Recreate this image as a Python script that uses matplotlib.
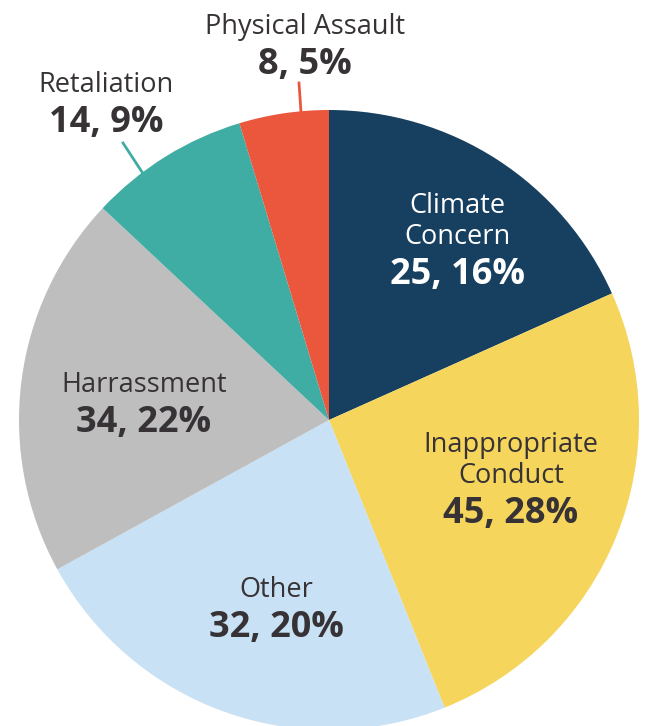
import matplotlib.pyplot as plt

# slices, clockwise from 12 o'clock
categories = ['Climate Concern', 'Inappropriate Conduct', 'Other', 'Harrassment',
              'Retaliation', 'Physical Assault']
counts = [25, 45, 32, 34, 14, 8]
percents = [16, 28, 20, 22, 9, 5]
# slice sizes as drawn in the picture (degrees), they do not follow the counts exactly
slice_deg = [65.9, 92.2, 83.1, 71.9, 30.1, 16.8]
colors = ['#173f5f', '#f5d55c', '#c9e1f4', '#bebebe', '#40ada4', '#eb573d']

W, H = 645, 726
cx, cy, r = 329, H - 420, 310

plt.rcParams['font.family'] = ['Open Sans', 'DejaVu Sans']

fig = plt.figure(figsize=(W / 100, H / 100), dpi=100)
ax = fig.add_axes([0, 0, 1, 1])
ax.pie(slice_deg, colors=colors, startangle=90, counterclock=False,
       center=(cx, cy), radius=r, frame=True,
       wedgeprops={'linewidth': 0})
ax.set_xlim(0, W)
ax.set_ylim(0, H)
ax.axis('off')

dark = '#363235'


def label(x, y, lines, value, color):
    # name lines in regular weight, "count, pct%" in bold below them
    yy = H - y - 3
    for ln in lines:
        ax.text(x, yy, ln, ha='center', va='center', fontsize=19.5, color=color)
        yy -= 31
    ax.text(x, yy - 7, value, ha='center', va='center', fontsize=26,
            fontweight='bold', color=color)


def val(i):
    return f'{counts[i]}, {percents[i]}%'


label(457, 203, ['Climate', 'Concern'], val(0), 'white')
label(511, 442, ['Inappropriate', 'Conduct'], val(1), dark)
label(276, 587, ['Other'], val(2), dark)
label(144, 382, ['Harrassment'], val(3), dark)
label(106, 82, ['Retaliation'], val(4), dark)
label(305, 24, ['Physical Assault'], val(5), dark)

# leader lines for the small outer slices
ax.plot([123, 142], [H - 143, H - 172], color=colors[4], lw=2)
ax.plot([299, 301], [H - 83, H - 112], color=colors[5], lw=2)

fig.savefig('out.png', dpi=100)
